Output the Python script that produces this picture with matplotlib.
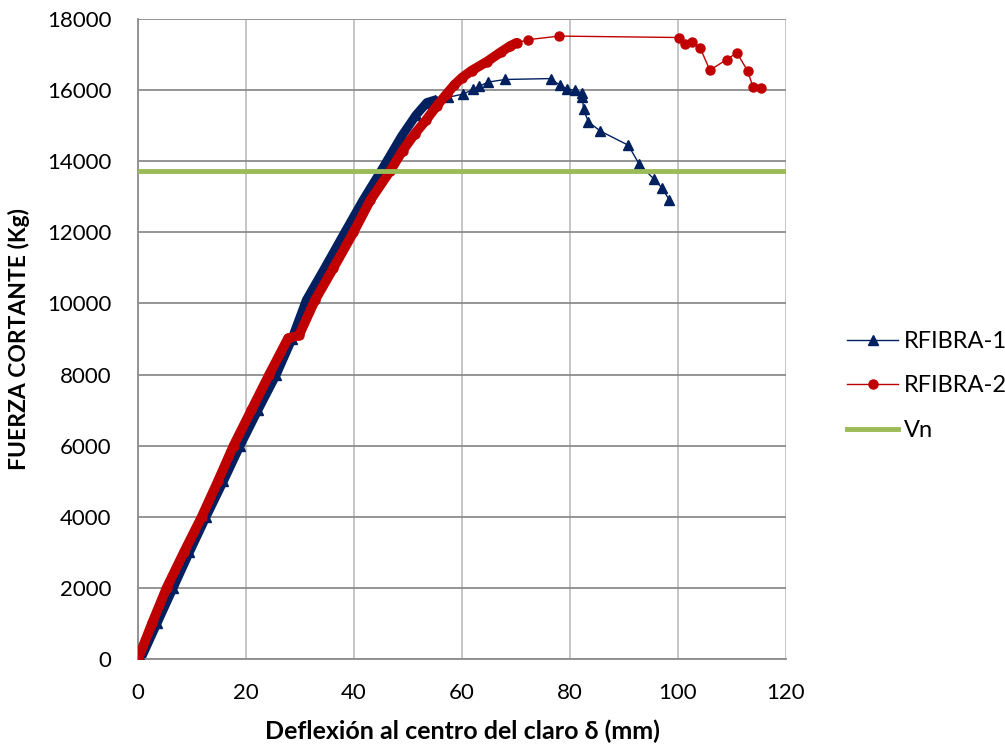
import matplotlib
matplotlib.use('Agg')
import matplotlib.pyplot as plt
import numpy as np

plt.rcParams['font.family'] = ['Lato', 'DejaVu Sans']

# RFIBRA-1 (deflexion mm, fuerza kg); the first DENSE1 points form the packed band
rf1_x = [0.5, 3.5, 6.5, 9.5, 12.6, 15.8, 18.9, 22.2, 25.6, 28.5, 31.2, 34.6, 38.3,
         41.7, 45.3, 48.8, 51.5, 53.5, 55.0,
         57.5, 60.2, 62.1, 63.2, 64.8, 68.0, 76.4, 78.1, 79.4, 80.9, 82.2, 82.3,
         82.5, 83.4, 85.6, 90.8, 92.8, 95.6, 97.0, 98.4]
rf1_y = [0, 1000, 2000, 3000, 4000, 5000, 6000, 7000, 8000, 9000, 10100, 11000, 12000,
         12910, 13800, 14700, 15300, 15650, 15720,
         15800, 15890, 16020, 16110, 16225, 16300, 16325, 16140, 16040, 15990, 15920, 15800,
         15460, 15110, 14850, 14450, 13920, 13490, 13255, 12910]
DENSE1 = 19

# RFIBRA-2
rf2_x = [0.0, 2.6, 5.3, 8.5, 11.8, 14.8, 17.7, 21.0, 24.3, 27.8, 29.8, 32.8, 36.2,
         39.9, 43.0, 46.7, 49.0, 51.3, 53.3, 55.3, 57.2, 58.6, 60.0, 61.8, 64.6,
         67.3, 68.9, 70.1,
         72.3, 78.0, 100.1, 101.3, 102.5, 104.1, 105.9, 109.0, 110.9, 112.9, 113.9, 115.3]
rf2_y = [0, 1000, 2000, 3000, 4000, 5000, 6000, 7000, 8000, 9020, 9100, 10100, 11000,
         12000, 12900, 13730, 14300, 14780, 15150, 15550, 15900, 16150, 16350, 16550, 16800,
         17080, 17240, 17330,
         17420, 17520, 17480, 17310, 17360, 17190, 16560, 16860, 17050, 16540, 16080, 16070]
DENSE2 = 28

# Vn
vn_x = [0, 120]
vn_y = [13720, 13720]

blue = '#002060'
red = '#C00000'
green = '#9BBB59'

fig = plt.figure(figsize=(10.05, 7.46), dpi=100)
ax = fig.add_axes([0.1373, 0.1166, 0.6448, 0.8579])

# packed band of measured points
ax.plot(rf1_x[:DENSE1], rf1_y[:DENSE1], color=blue, lw=6.5, solid_capstyle='round', zorder=2)
ax.plot(rf1_x, rf1_y, color=blue, lw=1, marker='^', ms=7, label='RFIBRA-1', zorder=3)
ax.plot(rf2_x[:DENSE2], rf2_y[:DENSE2], color=red, lw=7, solid_capstyle='round', zorder=4)
ax.plot(rf2_x, rf2_y, color=red, lw=1, marker='o', ms=6.5, label='RFIBRA-2', zorder=5)
ax.plot(vn_x, vn_y, color=green, lw=3.5, label='Vn', zorder=6)

ax.set_xlim(0, 120)
ax.set_ylim(0, 18000)
ax.set_xticks(np.arange(0, 121, 20))
ax.set_yticks(np.arange(0, 18001, 2000))
ax.tick_params(length=0, labelsize=16, pad=17)
ax.tick_params(axis='y', pad=19)

ax.yaxis.grid(True, color='#8c8c8c', lw=1.3)
ax.xaxis.grid(True, color='#c0c0c0', lw=1.3)
ax.set_axisbelow(True)
for s in ['top', 'right']:
    ax.spines[s].set_visible(False)
for s in ['left', 'bottom']:
    ax.spines[s].set_color('#8c8c8c')
    ax.spines[s].set_linewidth(1.3)

ax.set_xlabel('Deflexión al centro del claro δ (mm)', fontsize=18, fontweight='bold', labelpad=12)
ax.set_ylabel('FUERZA CORTANTE (Kg)', fontsize=16.5, fontweight='bold', labelpad=12)

fig.legend(loc='center left', bbox_to_anchor=(0.8428, 0.4826), frameon=False, fontsize=17,
           handlelength=2.16, labelspacing=1.0, handletextpad=0.25, borderpad=0,
           borderaxespad=0)

fig.savefig('out.png', dpi=100)
